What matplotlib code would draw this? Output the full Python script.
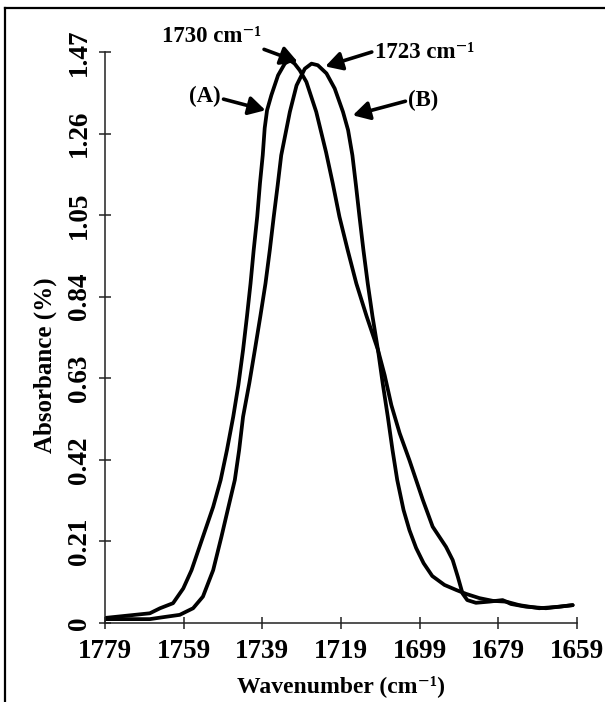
import matplotlib
matplotlib.use("Agg")
import matplotlib.pyplot as plt
from matplotlib.lines import Line2D
import numpy as np

# Wavenumber (cm^-1) and absorbance for spectrum (A)
wn_a = [1779.0, 1767.6, 1765.0, 1761.7, 1759.1, 1757.0, 1754.1, 1751.5, 1749.6,
        1748.0, 1746.4, 1745.1, 1743.9, 1742.9, 1742.0, 1741.2, 1740.3, 1739.6,
        1738.9, 1738.4, 1737.8, 1736.7, 1735.0, 1733.3, 1732.0, 1730.8, 1729.5,
        1727.8, 1725.3, 1722.8, 1721.1, 1719.4, 1717.3, 1715.1, 1712.5, 1709.6,
        1707.9, 1706.2, 1704.1, 1701.6, 1698.2, 1695.7, 1692.3, 1690.6, 1689.3,
        1688.1, 1686.9, 1684.7, 1681.3, 1677.9, 1675.8, 1672.0, 1666.9, 1661.8,
        1660.1]
abs_a = [0.013, 0.025, 0.038, 0.051, 0.089, 0.136, 0.222, 0.299, 0.368,
         0.445, 0.531, 0.612, 0.703, 0.790, 0.874, 0.960, 1.046, 1.132,
         1.204, 1.274, 1.320, 1.359, 1.410, 1.440, 1.449, 1.440, 1.423,
         1.393, 1.316, 1.212, 1.132, 1.046, 0.960, 0.874, 0.790, 0.703,
         0.638, 0.561, 0.489, 0.419, 0.317, 0.248, 0.196, 0.162, 0.119,
         0.076, 0.059, 0.052, 0.055, 0.059, 0.049, 0.042, 0.038, 0.044,
         0.046]

# Wavenumber (cm^-1) and absorbance for spectrum (B)
wn_b = [1779.0, 1767.6, 1764.2, 1760.0, 1756.6, 1754.1, 1751.5, 1749.4, 1747.8,
        1746.0, 1744.9, 1743.9, 1742.3, 1740.9, 1739.5, 1738.2, 1737.1, 1736.1,
        1735.1, 1734.2, 1732.0, 1730.3, 1728.2, 1726.5, 1724.9, 1722.7, 1720.6,
        1718.5, 1717.2, 1716.1, 1715.2, 1714.3, 1713.3, 1712.2, 1711.0, 1709.6,
        1708.4, 1707.1, 1705.9, 1704.7, 1703.1, 1701.6, 1699.9, 1698.0, 1695.8,
        1692.7, 1689.7, 1687.2, 1683.8, 1680.4, 1677.0, 1673.7, 1668.6, 1663.5,
        1660.1]
abs_b = [0.010, 0.010, 0.015, 0.021, 0.038, 0.068, 0.136, 0.222, 0.291,
         0.368, 0.445, 0.531, 0.618, 0.703, 0.790, 0.874, 0.960, 1.046,
         1.127, 1.204, 1.316, 1.384, 1.427, 1.440, 1.436, 1.415, 1.376,
         1.316, 1.269, 1.204, 1.127, 1.046, 0.960, 0.874, 0.790, 0.703,
         0.617, 0.531, 0.445, 0.368, 0.291, 0.239, 0.193, 0.154, 0.121,
         0.098, 0.085, 0.075, 0.064, 0.057, 0.055, 0.046, 0.038, 0.042,
         0.046]

# Peak positions marked on the plot
peak_a = 1730
peak_b = 1723

x_ticks = [1779, 1759, 1739, 1719, 1699, 1679, 1659]
y_ticks = [0, 0.21, 0.42, 0.63, 0.84, 1.05, 1.26, 1.47]
y_tick_labels = ["0", "0.21", "0.42", "0.63", "0.84", "1.05", "1.26", "1.47"]

serif = ["Liberation Serif", "DejaVu Serif"]
plt.rcParams["font.family"] = serif
plt.rcParams["font.weight"] = "bold"

W, H = 605, 702
fig = plt.figure(figsize=(W / 100, H / 100), dpi=100)
fig.patch.set_facecolor("white")

left, right, bottom, top = 105, 577, 623, 52
ax = fig.add_axes([left / W, 1 - bottom / H, (right - left) / W, (bottom - top) / H])

for wn, ab in ((wn_a, abs_a), (wn_b, abs_b)):
    ax.plot(wn, ab, color="black", lw=2.7, solid_joinstyle="round",
            solid_capstyle="round")

ax.set_xlim(1779, 1659)
ax.set_ylim(0, 1.47)
ax.set_xticks(x_ticks)
ax.set_xticklabels([str(v) for v in x_ticks])
ax.set_yticks(y_ticks)
ax.set_yticklabels(y_tick_labels, rotation=90, va="center")

for s in ("top", "right"):
    ax.spines[s].set_visible(False)
for s in ("left", "bottom"):
    ax.spines[s].set_linewidth(1.1)
    ax.spines[s].set_color("#222222")

ax.tick_params(axis="both", direction="inout", length=9, width=1.1, color="#222222",
               labelsize=19.5)
ax.tick_params(axis="x", pad=7)
ax.tick_params(axis="y", pad=5)
for lab in ax.get_xticklabels() + ax.get_yticklabels():
    lab.set_fontweight("bold")

ax.set_xlabel("Wavenumber (cm\u207b\u00b9)", fontsize=17, fontweight="bold", labelpad=8)
ax.set_ylabel("Absorbance (%)", fontsize=18, fontweight="bold", labelpad=8)
ax.yaxis.set_label_coords(-0.102, 0.452)

arrow = dict(arrowstyle="-|>,head_length=0.5,head_width=0.28", color="black", lw=2.6,
             mutation_scale=20, shrinkA=0, shrinkB=0)

ya = float(np.interp(peak_a, wn_a[::-1], abs_a[::-1]))
yb = float(np.interp(peak_b, wn_b[::-1], abs_b[::-1]))
ax.annotate(f"{peak_a} cm\u207b\u00b9", xy=(peak_a, ya + 0.015), xytext=(1751.8, 1.511),
            textcoords="data", fontsize=16.5, fontweight="bold", ha="center", va="center",
            arrowprops=dict(arrow, relpos=(0.95, 0.0)), annotation_clip=False)
ax.annotate(f"{peak_b} cm\u207b\u00b9", xy=(peak_b, yb + 0.015), xytext=(1697.8, 1.47),
            textcoords="data", fontsize=16.5, fontweight="bold", ha="center", va="center",
            arrowprops=dict(arrow, relpos=(-0.03, 0.5)), annotation_clip=False)

# Curve labels with pointers onto each flank
ax.annotate("(A)", xy=(1738.2, 1.32), xytext=(1753.6, 1.356),
            fontsize=16.5, fontweight="bold", ha="center", va="center",
            arrowprops=dict(arrow, relpos=(1.0, 0.4)))
ax.annotate("(B)", xy=(1716.0, 1.307), xytext=(1698.0, 1.346),
            fontsize=16.5, fontweight="bold", ha="center", va="center",
            arrowprops=dict(arrow, relpos=(-0.1, 0.45)))

# Border lines along the top and left edges of the figure
fig.add_artist(Line2D([5 / W, 1.0], [1 - 8 / H, 1 - 8 / H], color="black", lw=1.6,
                      transform=fig.transFigure))
fig.add_artist(Line2D([5 / W, 5 / W], [0.0, 1 - 8 / H], color="black", lw=1.6,
                      transform=fig.transFigure))

fig.savefig("out.png", dpi=100, facecolor="white")
